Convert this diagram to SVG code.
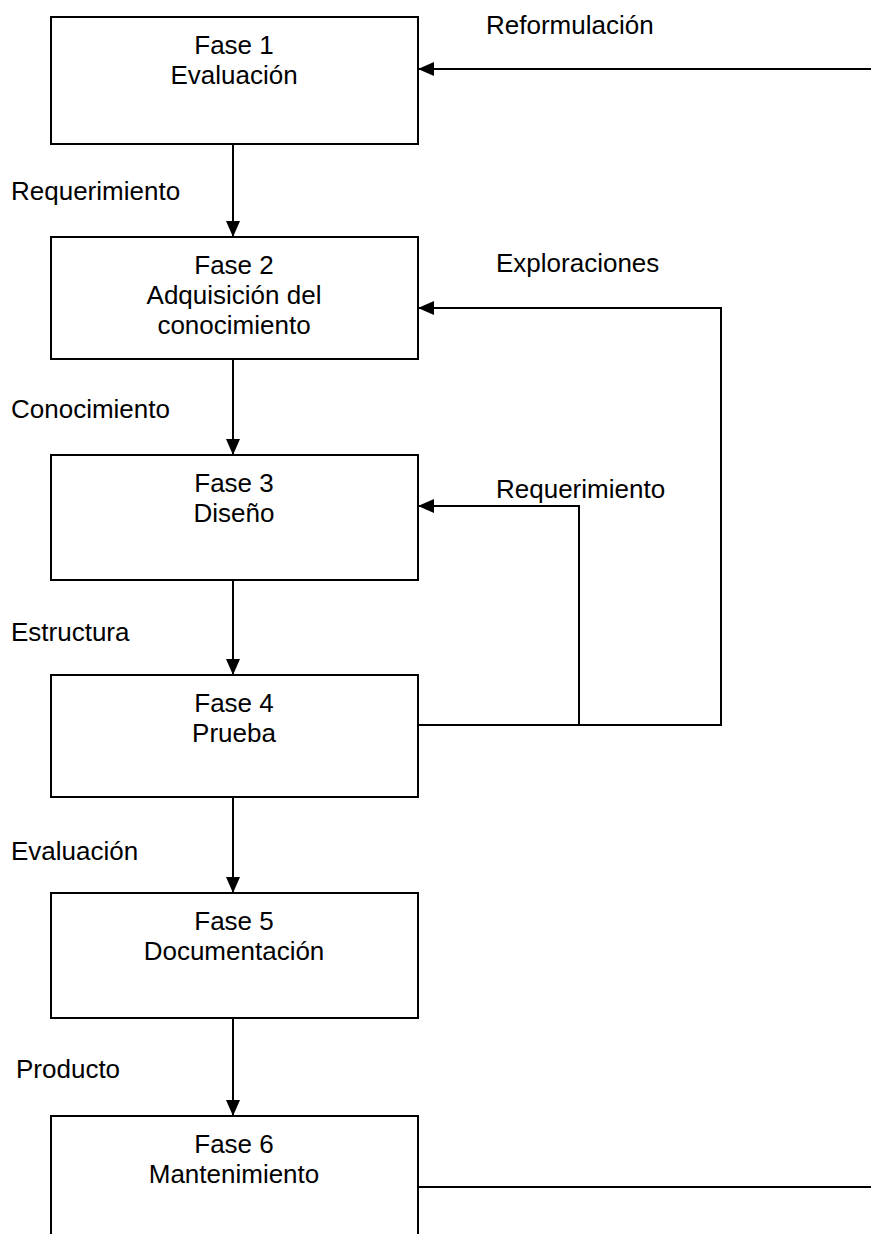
<svg xmlns="http://www.w3.org/2000/svg" width="871" height="1234" viewBox="0 0 871 1234">
  <style>
    .box { fill: #fff; stroke: #000; stroke-width: 2; }
    .ln { fill: none; stroke: #000; stroke-width: 2; }
    text { font-family: "Liberation Sans", Arial, sans-serif; font-size: 26px; fill: #000; }
    .c { text-anchor: middle; }
  </style>
  <defs>
    <marker id="ah" viewBox="0 0 16 14" refX="16" refY="7" markerWidth="16" markerHeight="14" markerUnits="userSpaceOnUse" orient="auto">
      <path d="M0,0 L16,7 L0,14 Z" fill="#000"/>
    </marker>
  </defs>

  <g id="connectors">
    <!-- downward flow between phases -->
    <line class="ln" x1="233" y1="144" x2="233" y2="237" marker-end="url(#ah)"/>
    <line class="ln" x1="233" y1="359" x2="233" y2="455" marker-end="url(#ah)"/>
    <line class="ln" x1="233" y1="580" x2="233" y2="675" marker-end="url(#ah)"/>
    <line class="ln" x1="233" y1="797" x2="233" y2="893" marker-end="url(#ah)"/>
    <line class="ln" x1="233" y1="1018" x2="233" y2="1116" marker-end="url(#ah)"/>
    <!-- feedback loops -->
    <line class="ln" x1="871" y1="69" x2="418" y2="69" marker-end="url(#ah)"/>
    <polyline class="ln" points="418,725 721,725 721,308 418,308" marker-end="url(#ah)"/>
    <polyline class="ln" points="579,725 579,506 418,506" marker-end="url(#ah)"/>
    <line class="ln" x1="418" y1="1187" x2="871" y2="1187"/>
  </g>

  <g id="fase1">
    <rect class="box" x="51" y="17" width="367" height="127"/>
    <text class="c" x="234" y="54">Fase 1</text>
    <text class="c" x="234" y="84">Evaluación</text>
  </g>
  <g id="fase2">
    <rect class="box" x="51" y="237" width="367" height="122"/>
    <text class="c" x="234" y="274">Fase 2</text>
    <text class="c" x="234" y="304">Adquisición del</text>
    <text class="c" x="234" y="334">conocimiento</text>
  </g>
  <g id="fase3">
    <rect class="box" x="51" y="455" width="367" height="125"/>
    <text class="c" x="234" y="492">Fase 3</text>
    <text class="c" x="234" y="522">Diseño</text>
  </g>
  <g id="fase4">
    <rect class="box" x="51" y="675" width="367" height="122"/>
    <text class="c" x="234" y="712">Fase 4</text>
    <text class="c" x="234" y="742">Prueba</text>
  </g>
  <g id="fase5">
    <rect class="box" x="51" y="893" width="367" height="125"/>
    <text class="c" x="234" y="930">Fase 5</text>
    <text class="c" x="234" y="960">Documentación</text>
  </g>
  <g id="fase6">
    <path class="ln" d="M51,1240 L51,1116 L418,1116 L418,1240"/>
    <text class="c" x="234" y="1153">Fase 6</text>
    <text class="c" x="234" y="1183">Mantenimiento</text>
  </g>

  <g id="labels">
    <text x="486" y="34">Reformulación</text>
    <text x="11" y="200">Requerimiento</text>
    <text x="496" y="272">Exploraciones</text>
    <text x="11" y="418">Conocimiento</text>
    <text x="496" y="498">Requerimiento</text>
    <text x="11" y="641">Estructura</text>
    <text x="11" y="860">Evaluación</text>
    <text x="16" y="1078">Producto</text>
  </g>
</svg>
